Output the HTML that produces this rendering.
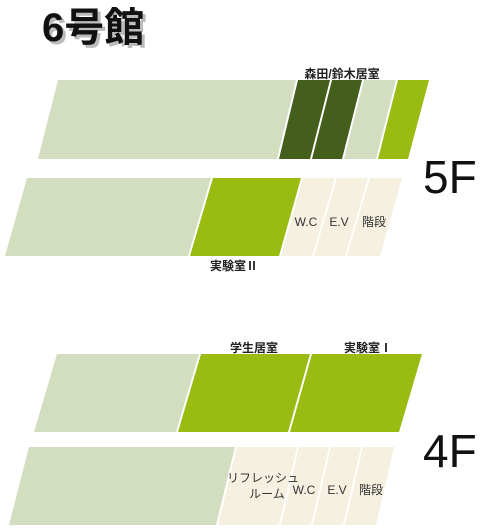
<!DOCTYPE html>
<html><head><meta charset="utf-8"><style>
html,body{margin:0;padding:0;background:#fff;}
svg{display:block;}
text{font-family:"Liberation Sans","Noto Sans CJK JP",sans-serif;}
</style></head><body>
<svg width="502" height="530" viewBox="0 0 502 530">
<text x="45" y="44" font-size="40" font-weight="bold" fill="#bbb">6号館</text>
<text x="42" y="41" font-size="40" font-weight="bold" fill="#111">6号館</text>
<g id="rooms"></g>
<g font-size="12" fill="#222" font-weight="bold">
<text x="342" y="78" text-anchor="middle">森田/鈴木居室</text>
<text x="234" y="270" text-anchor="middle">実験室Ⅱ</text>
<text x="254" y="352" text-anchor="middle">学生居室</text>
<text x="368" y="352" text-anchor="middle">実験室Ⅰ</text>
</g>
<g font-size="12" fill="#333">
<text x="306" y="226" text-anchor="middle">W.C</text>
<text x="339" y="226" text-anchor="middle">E.V</text>
<text x="374" y="226" text-anchor="middle">階段</text>
<text x="263" y="482" text-anchor="middle">リフレッシュ</text>
<text x="267" y="498" text-anchor="middle">ルーム</text>
<text x="304" y="494" text-anchor="middle">W.C</text>
<text x="337" y="494" text-anchor="middle">E.V</text>
<text x="371" y="494" text-anchor="middle">階段</text>
</g>
<text x="423" y="193" font-size="46" fill="#111">5F</text>
<text x="423" y="467" font-size="46" fill="#111">4F</text>
</svg>
<script>
const L='#d3dec0',D='#445e1c',G='#99bb12',B='#f5f0e0';
// [topY, bottomY, [ [topX0, topX1, bottomX0, bottomX1, color, name] ]]
const rows=[
 [80,159,[[58,296,38,277,L,'5f-hall'],[298,330,279,310,D,'morita-room'],[332,362,312,342,D,'suzuki-room'],[364,396,344,376,L,'5f-room-small'],[398,429,378,408,G,'5f-room-green']]],
 [178,256,[[27,211,5,188,L,'5f-corridor'],[213,301,190,279,G,'lab-2'],[303,335,281,312,B,'wc-5f'],[337,368,314,345,B,'ev-5f'],[370,402,347,380,B,'stairs-5f']]],
 [354,432,[[57,199,34,176,L,'4f-hall'],[201,310,178,288,G,'student-room'],[312,422,290,399,G,'lab-1']]],
 [447,525,[[29,235,9,216,L,'4f-corridor'],[237,297,218,279,B,'refresh-room'],[299,329,281,311,B,'wc-4f'],[331,361,313,343,B,'ev-4f'],[363,394,345,376,B,'stairs-4f']]]
];
const g=document.getElementById('rooms');
rows.forEach(r=>r[2].forEach(s=>{
 const p=document.createElementNS('http://www.w3.org/2000/svg','polygon');
 p.setAttribute('points',`${s[0]},${r[0]} ${s[1]},${r[0]} ${s[3]},${r[1]} ${s[2]},${r[1]}`);
 p.setAttribute('fill',s[4]);
 
 
 g.appendChild(p);
}));
</script>
</body></html>
